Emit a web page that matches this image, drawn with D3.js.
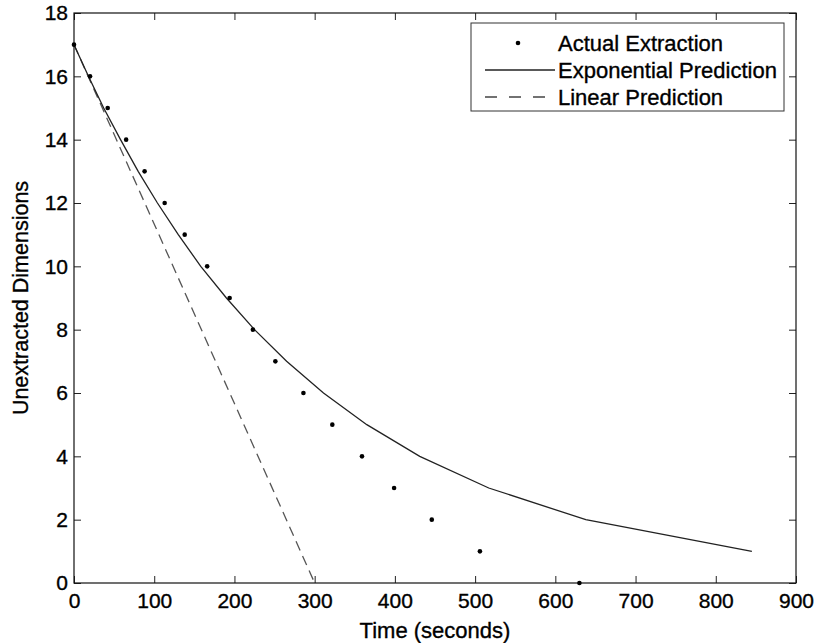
<!DOCTYPE html>
<html>
<head>
<meta charset="utf-8">
<script src="https://cdn.jsdelivr.net/npm/d3@7"></script>
<style>
  body { margin: 0; background: #fff; }
  text { font-family: "Liberation Sans", Arial, Helvetica, sans-serif; }
</style>
</head>
<body>
<svg id="chart" width="817" height="643"></svg>
<script>
// actual extraction: time (s) at which each dimension count was reached
var actualTime = [0, 20, 42, 65, 88, 113, 138, 166, 194, 223, 251, 286, 322, 359, 399, 446, 506, 630];
var actualDims = [17, 16, 15, 14, 13, 12, 11, 10, 9, 8, 7, 6, 5, 4, 3, 2, 1, 0];

// exponential prediction (polyline vertices)
var expTime = [0, 18, 37, 58, 80, 104, 130, 158, 190, 225, 265, 311, 365, 431, 517, 638, 845];
var expDims = [17, 16, 15, 14, 13, 12, 11, 10, 9, 8, 7, 6, 5, 4, 3, 2, 1];

// linear prediction
var linTime = [0, 300];
var linDims = [17, 0];

var xTicks = [0, 100, 200, 300, 400, 500, 600, 700, 800, 900];
var yTicks = [0, 2, 4, 6, 8, 10, 12, 14, 16, 18];

var legendLabels = ["Actual Extraction", "Exponential Prediction", "Linear Prediction"];

var margin = { left: 74, right: 21, top: 13, bottom: 60 };
var W = 817, H = 643;
var w = W - margin.left - margin.right,
    h = H - margin.top - margin.bottom;

var svg = d3.select("#chart");
var g = svg.append("g").attr("transform", "translate(" + margin.left + "," + margin.top + ")");

var x = d3.scaleLinear().domain([0, 900]).range([0, w]);
var y = d3.scaleLinear().domain([0, 18]).range([h, 0]);

// axes, ticks pointing inward, mirrored on top/right
var fs = 21;
g.append("g").attr("transform", "translate(0," + h + ")")
  .call(d3.axisBottom(x).tickValues(xTicks).tickSize(-7).tickPadding(10).tickSizeOuter(0))
  .call(function(a) { a.select(".domain").remove(); });
g.append("g")
  .call(d3.axisTop(x).tickValues(xTicks).tickSize(-7).tickFormat("").tickSizeOuter(0))
  .call(function(a) { a.select(".domain").remove(); });
g.append("g")
  .call(d3.axisLeft(y).tickValues(yTicks).tickSize(-7).tickPadding(6).tickSizeOuter(0))
  .call(function(a) { a.select(".domain").remove(); });
g.append("g").attr("transform", "translate(" + w + ",0)")
  .call(d3.axisRight(y).tickValues(yTicks).tickSize(-7).tickFormat("").tickSizeOuter(0))
  .call(function(a) { a.select(".domain").remove(); });

g.selectAll(".tick line").attr("stroke", "#222");
g.selectAll(".tick text").attr("font-size", fs).attr("fill", "#000")
  .attr("stroke", "#000").attr("stroke-width", 0.35)
  .attr("font-family", "Liberation Sans, Arial, sans-serif");

g.append("rect")
  .attr("width", w).attr("height", h)
  .attr("fill", "none").attr("stroke", "#111").attr("stroke-width", 1.2);

// axis titles
g.append("text")
  .attr("x", w / 2).attr("y", h + 55)
  .attr("text-anchor", "middle").attr("font-size", 22)
  .attr("stroke", "#000").attr("stroke-width", 0.35)
  .text("Time (seconds)");
g.append("text")
  .attr("transform", "translate(" + (-46) + "," + (h / 2) + ") rotate(-90)")
  .attr("text-anchor", "middle").attr("font-size", 21.5)
  .attr("stroke", "#000").attr("stroke-width", 0.35)
  .text("Unextracted Dimensions");

// series
var line = d3.line().x(function(d) { return x(d[0]); }).y(function(d) { return y(d[1]); });

g.append("path")
  .datum(d3.zip(linTime, linDims))
  .attr("d", line)
  .attr("fill", "none").attr("stroke", "#555").attr("stroke-width", 1.3)
  .attr("stroke-dasharray", "10,6");

g.append("path")
  .datum(d3.zip(expTime, expDims))
  .attr("d", line)
  .attr("fill", "none").attr("stroke", "#222").attr("stroke-width", 1.3);

g.selectAll(".dot")
  .data(d3.zip(actualTime, actualDims))
  .enter().append("circle")
  .attr("class", "dot")
  .attr("cx", function(d) { return x(d[0]); })
  .attr("cy", function(d) { return y(d[1]); })
  .attr("r", 2.3)
  .attr("fill", "#000");

// legend
var lg = svg.append("g").attr("transform", "translate(471,23)");
lg.append("rect").attr("width", 313).attr("height", 88)
  .attr("fill", "#fff").attr("stroke", "#333").attr("stroke-width", 1);

var rowY = [20, 47, 74];
legendLabels.forEach(function(lbl, i) {
  lg.append("text")
    .attr("x", 87).attr("y", rowY[i] + 8)
    .attr("font-size", 22).attr("fill", "#000")
    .attr("stroke", "#000").attr("stroke-width", 0.35)
    .text(lbl);
});
lg.append("circle").attr("cx", 47).attr("cy", rowY[0]).attr("r", 2.3).attr("fill", "#000");
lg.append("line").attr("x1", 14).attr("x2", 84).attr("y1", rowY[1]).attr("y2", rowY[1])
  .attr("stroke", "#222").attr("stroke-width", 1.3);
lg.append("line").attr("x1", 14).attr("x2", 84).attr("y1", rowY[2]).attr("y2", rowY[2])
  .attr("stroke", "#444").attr("stroke-width", 1.3).attr("stroke-dasharray", "12,12");
</script>
</body>
</html>
